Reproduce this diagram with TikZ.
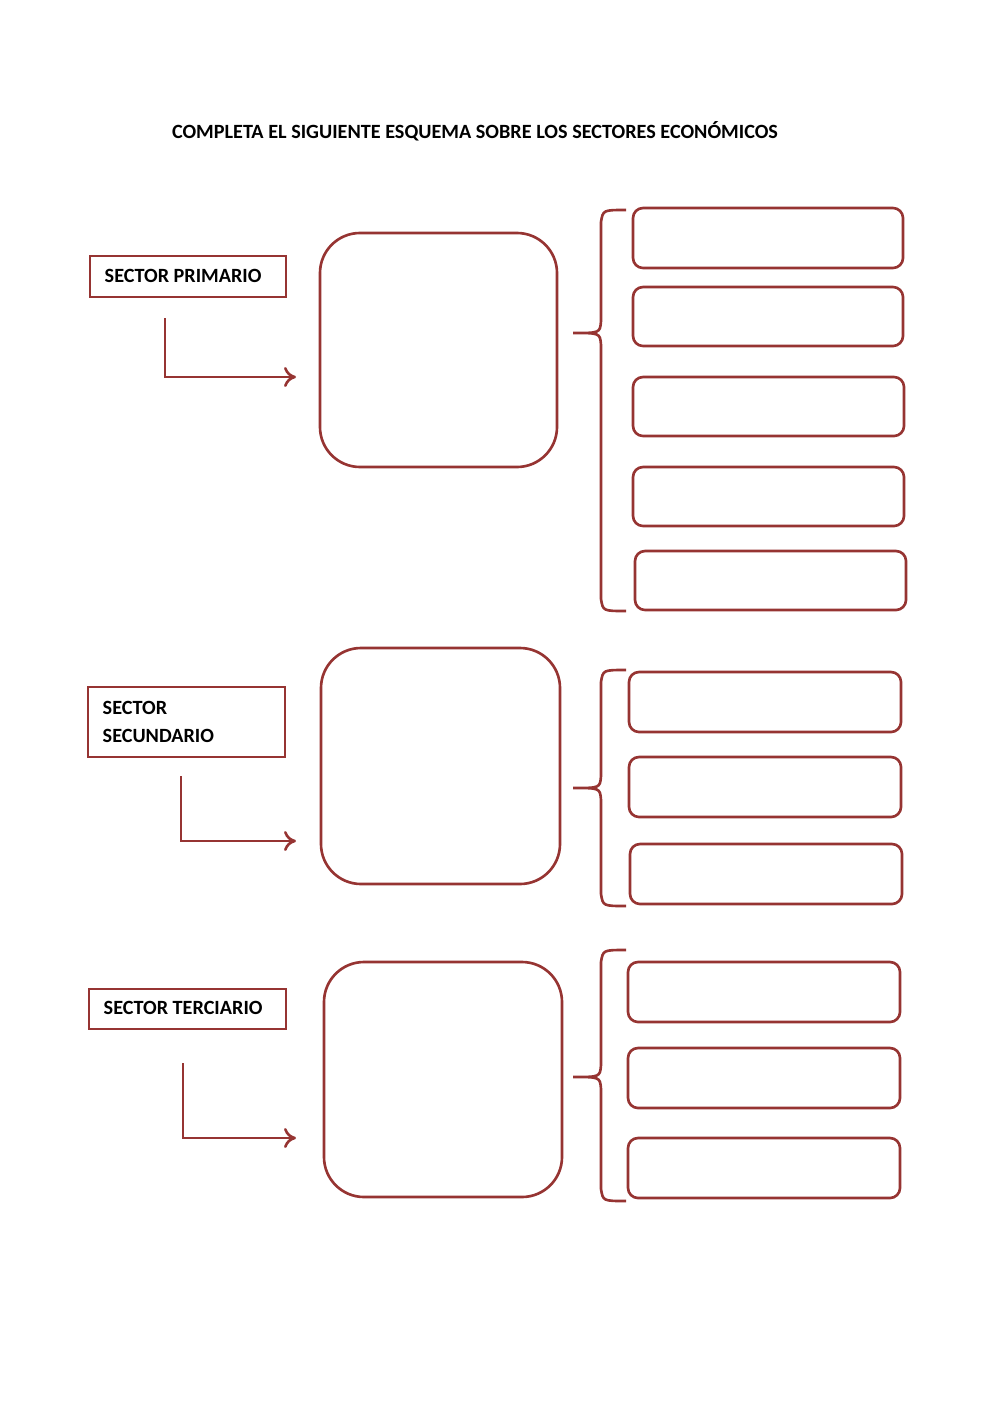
\documentclass[tikz,border=0pt]{standalone}
\usepackage{fontspec}
\setmainfont{Carlito}
\usetikzlibrary{fit,arrows.meta}
\definecolor{dred}{RGB}{150,52,50}
\begin{document}
\begin{tikzpicture}[x=0.1mm,y=-0.1mm,
  lbl/.style={draw=dred,line width=0.75pt,inner sep=0pt},
  big/.style={draw=dred,line width=0.75pt,rounded corners=4mm,inner sep=0pt},
  sm/.style={draw=dred,line width=0.75pt,rounded corners=1mm,inner sep=0pt},
  txt/.style={font=\bfseries\fontsize{5.75pt}{6.9pt}\selectfont,anchor=west,inner sep=0pt},
  arr/.style={draw=dred,line width=0.75pt,-{To[length=1.2mm,width=2mm]}},
  brace/.style={draw=dred,line width=0.75pt}]
\useasboundingbox (0,0) rectangle (1000,1413);
\node[font=\bfseries\fontsize{5.75pt}{6.9pt}\selectfont,inner sep=0pt] (title) at (475,131) {COMPLETA EL SIGUIENTE ESQUEMA SOBRE LOS SECTORES ECONÓMICOS};
% primario
\node[lbl,fit={(90,256) (286,297)}] (l1) {};
\node[txt] (t1) at (104,276) {SECTOR PRIMARIO};
\coordinate (a1s) at (165,318); \coordinate (a1e) at (296,377);
\draw[arr] (a1s) |- (a1e);
\node[big,fit={(320,233) (557,467)}] (b1) {};
\draw[brace] (626,210) .. controls (603,210) .. (601,222) -- (601,321) .. controls (600,333) .. (573,333) .. controls (600,333) .. (601,345) -- (601,599) .. controls (603,611) .. (626,611);
\node[sm,fit={(633,208) (903,268)}] (s11) {};
\node[sm,fit={(633,287) (903,346)}] (s12) {};
\node[sm,fit={(633,377) (904,436)}] (s13) {};
\node[sm,fit={(633,467) (904,526)}] (s14) {};
\node[sm,fit={(635,551) (906,610)}] (s15) {};
% secundario
\node[lbl,fit={(88,687) (285,757)}] (l2) {};
\node[txt] (t2a) at (102,708) {SECTOR};
\node[txt] (t2b) at (102,736) {SECUNDARIO};
\coordinate (a2s) at (181,776); \coordinate (a2e) at (296,841);
\draw[arr] (a2s) |- (a2e);
\node[big,fit={(321,648) (560,884)}] (b2) {};
\draw[brace] (626,670) .. controls (603,670) .. (601,682) -- (601,776) .. controls (600,788) .. (573,788) .. controls (600,788) .. (601,800) -- (601,894) .. controls (603,906) .. (626,906);
\node[sm,fit={(629,672) (901,732)}] (s21) {};
\node[sm,fit={(629,757) (901,817)}] (s22) {};
\node[sm,fit={(630,844) (902,904)}] (s23) {};
% terciario
\node[lbl,fit={(89,989) (286,1029)}] (l3) {};
\node[txt] (t3) at (103,1008) {SECTOR TERCIARIO};
\coordinate (a3s) at (183,1063); \coordinate (a3e) at (296,1138);
\draw[arr] (a3s) |- (a3e);
\node[big,fit={(324,962) (562,1197)}] (b3) {};
\draw[brace] (626,950) .. controls (603,950) .. (601,962) -- (601,1065) .. controls (600,1077) .. (573,1077) .. controls (600,1077) .. (601,1089) -- (601,1189) .. controls (603,1201) .. (626,1201);
\node[sm,fit={(628,962) (900,1022)}] (s31) {};
\node[sm,fit={(628,1048) (900,1108)}] (s32) {};
\node[sm,fit={(628,1138) (900,1198)}] (s33) {};
\end{tikzpicture}
\end{document}
